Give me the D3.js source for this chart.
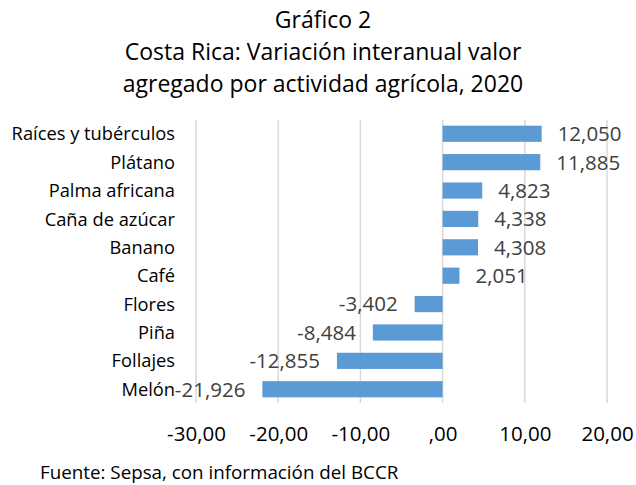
<!DOCTYPE html>
<html>
<head>
<meta charset="utf-8">
<script src="https://cdn.jsdelivr.net/npm/d3@7"></script>
<style>
  body { margin: 0; background: #fff; }
  text { font-family: "Open Sans", sans-serif; }
</style>
</head>
<body>
<div id="chart"></div>
<script>
// data
var categories = ["Raíces y tubérculos", "Plátano", "Palma africana", "Caña de azúcar", "Banano",
  "Café", "Flores", "Piña", "Follajes", "Melón"];
var values = [12.050, 11.885, 4.823, 4.338, 4.308, 2.051, -3.402, -8.484, -12.855, -21.926];
var xTicks = [-30, -20, -10, 0, 10, 20];
var titleLines = ["Gráfico 2", "Costa Rica: Variación interanual valor", "agregado por actividad agrícola, 2020"];
var source = "Fuente: Sepsa, con información del BCCR";

var svgWidth = 636;
var svgHeight = 485;
var margin = { top: 120, right: 29, bottom: 82, left: 196 };
var width = svgWidth - margin.left - margin.right;
var height = svgHeight - margin.top - margin.bottom;

var data = categories.map((c, i) => ({ name: c, value: values[i] }));

var svg = d3.select("#chart")
  .append("svg")
  .attr("width", svgWidth)
  .attr("height", svgHeight);

// title
svg.append("g").selectAll("text")
  .data(titleLines)
  .enter()
  .append("text")
  .attr("x", 323)
  .attr("y", (d, i) => 28 + i * 32)
  .attr("text-anchor", "middle")
  .style("font-size", "23px")
  .style("fill", "#000")
  .text(d => d);

var chartGroup = svg.append("g")
  .attr("transform", `translate(${margin.left}, ${margin.top})`);

var x = d3.scaleLinear()
  .domain([-30, 20])
  .range([0, width]);

var y = d3.scaleBand()
  .domain(categories)
  .range([0, height])
  .paddingInner(0.43)
  .paddingOuter(0.2);

// gridlines
chartGroup.selectAll(".grid")
  .data(xTicks)
  .enter()
  .append("line")
  .attr("x1", d => x(d))
  .attr("x2", d => x(d))
  .attr("y1", 0)
  .attr("y2", height)
  .attr("stroke", "#d9d9d9")
  .attr("stroke-width", 1.5);

// x axis labels
var fmt = d => (d === 0 ? ",00" : d3.format(".2f")(d).replace("−", "-").replace(".", ","));
var xAxis = d3.axisBottom(x).tickValues(xTicks).tickSize(0).tickPadding(0).tickFormat(fmt);
var axisG = chartGroup.append("g")
  .attr("transform", `translate(0, ${height + 23})`)
  .call(xAxis);
axisG.select(".domain").remove();
axisG.selectAll("text")
  .style("font-family", "'Open Sans', sans-serif")
  .style("font-size", "20.5px")
  .style("fill", "#000");

// bars
chartGroup.selectAll(".bar")
  .data(data)
  .enter()
  .append("rect")
  .attr("x", d => x(Math.min(0, d.value)))
  .attr("y", d => y(d.name))
  .attr("width", d => Math.abs(x(d.value) - x(0)))
  .attr("height", y.bandwidth())
  .attr("fill", "#5b9bd5");

// value labels
chartGroup.selectAll(".val")
  .data(data)
  .enter()
  .append("text")
  .attr("x", d => d.value >= 0 ? x(d.value) + 16 : x(d.value) - 17)
  .attr("y", d => y(d.name) + y.bandwidth() / 2)
  .attr("dy", "0.36em")
  .attr("text-anchor", d => d.value >= 0 ? "start" : "end")
  .style("font-size", "20.5px")
  .style("fill", "#404040")
  .text(d => d3.format(".3f")(d.value).replace("−", "-").replace(".", ","));

// category labels
chartGroup.selectAll(".cat")
  .data(data)
  .enter()
  .append("text")
  .attr("x", -21)
  .attr("y", d => y(d.name) + y.bandwidth() / 2)
  .attr("dy", "0.36em")
  .attr("text-anchor", "end")
  .style("font-size", "18.3px")
  .style("fill", "#000")
  .text(d => d.name);

// source
svg.append("text")
  .attr("x", 40)
  .attr("y", 479)
  .style("font-size", "18.8px")
  .style("fill", "#000")
  .text(source);
</script>
</body>
</html>
